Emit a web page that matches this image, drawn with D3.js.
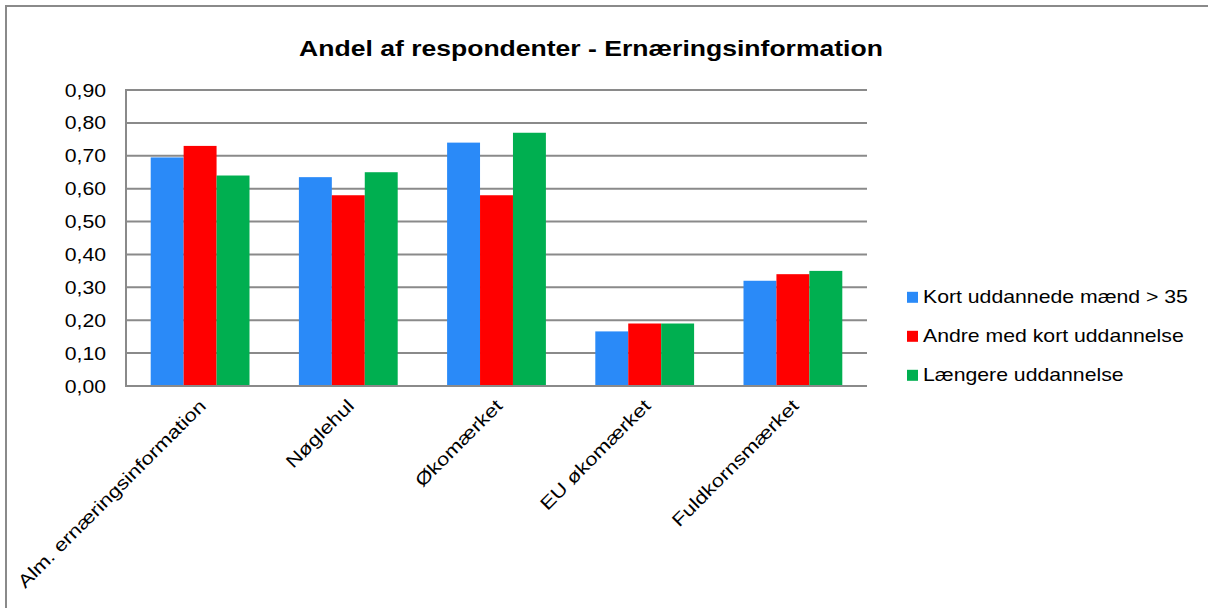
<!DOCTYPE html>
<html>
<head>
<meta charset="utf-8">
<script src="https://cdn.jsdelivr.net/npm/d3@7"></script>
<style>
  html, body { margin: 0; padding: 0; background: #fff; }
  svg { display: block; }
  text { font-family: "Liberation Sans", Arial, sans-serif; fill: #000; }
</style>
</head>
<body>
<svg id="chart" width="1208" height="608"></svg>
<script>
const title = "Andel af respondenter - Ernæringsinformation";
const categories = ["Alm. ernæringsinformation", "Nøglehul", "Økomærket", "EU økomærket", "Fuldkornsmærket"];
const seriesNames = ["Kort uddannede mænd > 35", "Andre med kort uddannelse", "Længere uddannelse"];
const seriesColors = ["#2A8AF8", "#FF0000", "#00AF50"];
const kortMaend = [0.695, 0.635, 0.74, 0.166, 0.32];
const andreKort = [0.73, 0.58, 0.58, 0.19, 0.34];
const laengere  = [0.64, 0.65, 0.77, 0.19, 0.35];
const seriesValues = [kortMaend, andreKort, laengere];
const yTicks = [0, 0.1, 0.2, 0.3, 0.4, 0.5, 0.6, 0.7, 0.8, 0.9];

const SX = 1.18; // horizontal stretch of glyphs in the reference
const svg = d3.select("#chart");
const gridColor = "#8a8a8a";

// outer frame (top and left visible)
svg.append("line").attr("x1", 6).attr("x2", 1208).attr("y1", 6).attr("y2", 6)
  .attr("stroke", gridColor).attr("stroke-width", 2);
svg.append("line").attr("x1", 6).attr("x2", 6).attr("y1", 5).attr("y2", 608)
  .attr("stroke", gridColor).attr("stroke-width", 2);

const plot = { left: 126, right: 867, top: 90, bottom: 386 };

const x0 = d3.scaleBand().domain(categories).range([plot.left, plot.right]).paddingInner(0).paddingOuter(0);
const y = d3.scaleLinear().domain([0, 0.9]).range([plot.bottom, plot.top]);
const bw = x0.bandwidth() / 4.5; // gap width 150%
const x1 = d3.scaleBand().domain(d3.range(3)).range([0, bw * 3]);

// gridlines
svg.append("g").selectAll("line").data(yTicks.slice(1)).join("line")
  .attr("x1", plot.left).attr("x2", plot.right)
  .attr("y1", d => y(d)).attr("y2", d => y(d))
  .attr("stroke", gridColor).attr("stroke-width", 2);

// bars
const groups = svg.append("g").selectAll("g").data(categories).join("g")
  .attr("transform", c => `translate(${x0(c) + (x0.bandwidth() - bw * 3) / 2},0)`);
groups.selectAll("rect").data((c, i) => seriesValues.map((s, k) => ({ k, v: s[i] }))).join("rect")
  .attr("x", d => x1(d.k)).attr("width", x1.bandwidth())
  .attr("y", d => y(d.v)).attr("height", d => y(0) - y(d.v))
  .attr("fill", d => seriesColors[d.k]);

// axes lines
svg.append("line").attr("x1", plot.left).attr("x2", plot.left).attr("y1", plot.top - 1).attr("y2", plot.bottom + 1)
  .attr("stroke", gridColor).attr("stroke-width", 2);
svg.append("line").attr("x1", plot.left - 1).attr("x2", plot.right).attr("y1", plot.bottom).attr("y2", plot.bottom)
  .attr("stroke", gridColor).attr("stroke-width", 2);

// y tick labels
const fmt = d => d.toFixed(2).replace(".", ",");
svg.append("g").selectAll("text").data(yTicks).join("text")
  .attr("transform", d => `translate(106,${y(d) + 6.5}) scale(${SX},1)`)
  .attr("text-anchor", "end").attr("font-size", 18)
  .text(fmt);

// x labels
svg.append("g").selectAll("text").data(categories).join("text")
  .attr("transform", c => `translate(${x0(c) + x0.bandwidth() / 2 + 7},${plot.bottom + 21}) rotate(-45) scale(1.22,1)`)
  .attr("text-anchor", "end").attr("font-size", 18)
  .text(c => c);

// title
svg.append("text")
  .attr("transform", `translate(591,56) scale(${SX},1)`)
  .attr("text-anchor", "middle").attr("font-size", 22.5).attr("font-weight", "bold")
  .text(title);

// legend
const leg = svg.append("g").selectAll("g").data(seriesNames).join("g")
  .attr("transform", (d, i) => `translate(907,${303.3 + i * 39})`);
leg.append("rect").attr("x", 0).attr("y", -11.5).attr("width", 11).attr("height", 11)
  .attr("fill", (d, i) => seriesColors[i]);
leg.append("text").attr("transform", `translate(16,0) scale(${SX},1)`)
  .attr("font-size", 18).text(d => d);
</script>
</body>
</html>
